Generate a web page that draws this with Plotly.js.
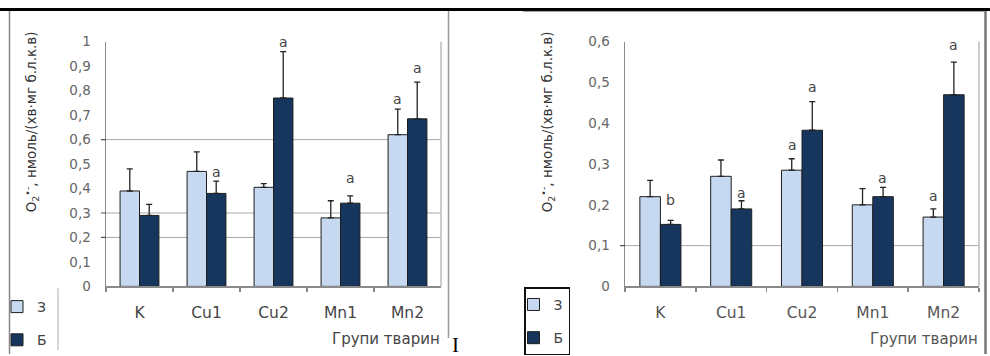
<!DOCTYPE html>
<html>
<head>
<meta charset="utf-8">
<script src="https://cdn.plot.ly/plotly-3.0.1.min.js"></script>
<style>html,body{margin:0;padding:0;background:#fff;}#chart{width:990px;height:356px;}</style>
</head>
<body>
<div id="chart"></div>
<script>
// ---- data ----
const categories = ['K', 'Cu1', 'Cu2', 'Mn1', 'Mn2'];
const seriesNames = ['З', 'Б'];

// left chart
const leftZ = [0.39, 0.47, 0.405, 0.28, 0.62];
const leftZErr = [0.09, 0.08, 0.015, 0.07, 0.105];
const leftB = [0.29, 0.38, 0.77, 0.34, 0.685];
const leftBErr = [0.045, 0.05, 0.19, 0.03, 0.15];
const leftZLetters = ['', '', '', '', 'a'];
const leftZLetterPos = [null, null, null, null, 0.764];
const leftBLetters = ['', 'a', 'a', 'a', 'a'];
const leftBLetterPos = [null, 0.467, 1.0, 0.443, 0.894];
const leftTicks = [0, 0.1, 0.2, 0.3, 0.4, 0.5, 0.6, 0.7, 0.8, 0.9, 1];
const leftGrid = [0.2, 0.3, 0.6];

// right chart
const rightZ = [0.22, 0.27, 0.285, 0.20, 0.17];
const rightZErr = [0.04, 0.04, 0.028, 0.04, 0.02];
const rightB = [0.152, 0.19, 0.383, 0.22, 0.47];
const rightBErr = [0.01, 0.02, 0.07, 0.023, 0.08];
const rightZLetters = ['', '', 'a', '', 'a'];
const rightZLetterPos = [null, null, 0.348, null, 0.221];
const rightBLetters = ['b', 'a', 'a', 'a', 'a'];
const rightBLetterPos = [0.212, 0.23, 0.488, 0.267, 0.593];
const rightTicks = [0, 0.1, 0.2, 0.3, 0.4, 0.5, 0.6];
const rightGrid = [0.1];

const yTitle = 'O<sub>2</sub><sup>•-</sup>, нмоль/(хв·мг б.л.к.в)';
const xTitle = 'Групи тварин';

// ---- styles ----
const W = 990, H = 356;
const px = v => v / W;
const py = v => 1 - v / H;
const lightCol = '#c6d9f1';
const darkCol = '#17365d';
const edgeCol = '#1e1e1e';
const FONT = 'DejaVu Sans, Liberation Sans, Arial, sans-serif';

function barTrace(name, y, err, col, xa, ya, legend, group) {
  return {
    type: 'bar', name: name, x: categories, y: y,
    xaxis: xa, yaxis: ya, legend: legend, legendgroup: group,
    marker: {color: col, line: {color: edgeCol, width: 1}},
    error_y: {type: 'data', array: err, arrayminus: err.map(() => 0), symmetric: false,
              color: '#222', thickness: 1.3, width: 3},
    hoverinfo: 'skip'
  };
}

const data = [
  barTrace(seriesNames[0], leftZ, leftZErr, lightCol, 'x', 'y', 'legend', 'g1'),
  barTrace(seriesNames[1], leftB, leftBErr, darkCol, 'x', 'y', 'legend', 'g2'),
  barTrace(seriesNames[0], rightZ, rightZErr, lightCol, 'x2', 'y2', 'legend2', 'g1'),
  barTrace(seriesNames[1], rightB, rightBErr, darkCol, 'x2', 'y2', 'legend2', 'g2')
];

const annotations = [];
function addLetters(letters, pos, xa, ya, shift) {
  letters.forEach((t, i) => {
    if (!t) return;
    annotations.push({xref: xa, yref: ya, x: categories[i], y: pos[i], text: t,
      showarrow: false, xshift: shift, yanchor: 'middle',
      font: {family: FONT, size: 14, color: '#444'}});
  });
}
addLetters(leftZLetters, leftZLetterPos, 'x', 'y', -10);
addLetters(leftBLetters, leftBLetterPos, 'x', 'y', 10);
addLetters(rightZLetters, rightZLetterPos, 'x2', 'y2', -10);
addLetters(rightBLetters, rightBLetterPos, 'x2', 'y2', 10);

// titles
annotations.push({xref: 'paper', yref: 'paper', x: px(32), y: py(123), text: yTitle, textangle: -90,
  showarrow: false, xanchor: 'center', yanchor: 'middle', font: {family: FONT, size: 13.5, color: '#333'}});
annotations.push({xref: 'paper', yref: 'paper', x: px(548), y: py(123), text: yTitle, textangle: -90,
  showarrow: false, xanchor: 'center', yanchor: 'middle', font: {family: FONT, size: 13.5, color: '#333'}});
annotations.push({xref: 'paper', yref: 'paper', x: px(442), y: py(341), text: xTitle,
  showarrow: false, xanchor: 'right', yanchor: 'middle', font: {family: FONT, size: 15, color: '#444'}});
annotations.push({xref: 'paper', yref: 'paper', x: px(980), y: py(341), text: xTitle,
  showarrow: false, xanchor: 'right', yanchor: 'middle', font: {family: FONT, size: 15, color: '#555'}});
annotations.push({xref: 'paper', yref: 'paper', x: px(455), y: py(347), text: 'I',
  showarrow: false, xanchor: 'center', yanchor: 'middle', font: {family: 'Liberation Serif, serif', size: 21, color: '#000'}});

const shapes = [];
// gridlines + ticks
leftGrid.forEach(v => {
  shapes.push({type: 'line', xref: 'x domain', yref: 'y', x0: 0, x1: 1, y0: v, y1: v,
    line: {color: '#a8a8a8', width: 1}, layer: 'below'});
  shapes.push({type: 'line', xref: 'paper', yref: 'y', x0: px(101), x1: px(106), y0: v, y1: v,
    line: {color: '#555', width: 1.2}});
});
rightGrid.forEach(v => {
  shapes.push({type: 'line', xref: 'x2 domain', yref: 'y2', x0: 0, x1: 1, y0: v, y1: v,
    line: {color: '#a8a8a8', width: 1}, layer: 'below'});
  shapes.push({type: 'line', xref: 'paper', yref: 'y2', x0: px(620), x1: px(625), y0: v, y1: v,
    line: {color: '#555', width: 1.2}});
});
// plot-area right borders
shapes.push({type: 'line', xref: 'x domain', yref: 'y domain', x0: 1, x1: 1, y0: 0, y1: 1,
  line: {color: '#bbb', width: 1.5}});
shapes.push({type: 'line', xref: 'x2 domain', yref: 'y2 domain', x0: 1, x1: 1, y0: 0, y1: 1,
  line: {color: '#bbb', width: 1.5}});
// frames
shapes.push({type: 'rect', xref: 'paper', yref: 'paper', x0: 0, x1: 1, y0: py(11), y1: py(8),
  fillcolor: '#000', line: {width: 0}});
shapes.push({type: 'line', xref: 'paper', yref: 'paper', x0: px(9.5), x1: px(9.5), y0: py(356), y1: py(11),
  line: {color: '#888', width: 1.5}});
shapes.push({type: 'line', xref: 'paper', yref: 'paper', x0: px(448.5), x1: px(448.5), y0: py(340), y1: py(11),
  line: {color: '#999', width: 1.5}});
shapes.push({type: 'line', xref: 'paper', yref: 'paper', x0: px(58), x1: px(58), y0: py(352), y1: py(290),
  line: {color: '#bbb', width: 1.2}});
shapes.push({type: 'line', xref: 'paper', yref: 'paper', x0: px(985.5), x1: px(985.5), y0: py(356), y1: py(11),
  line: {color: '#777', width: 2.5}});
shapes.push({type: 'line', xref: 'paper', yref: 'paper', x0: px(523), x1: px(985), y0: py(11.5), y1: py(11.5),
  line: {color: '#999', width: 1}});

const yDom = [py(288), py(42)];
const xAxisCommon = {
  type: 'category', showline: true, linecolor: '#8a8a8a', linewidth: 1.5,
  ticks: 'outside', tickson: 'boundaries', ticklen: 4, tickcolor: '#888', tickwidth: 1.5,
  showgrid: false, zeroline: false, ticklabelstandoff: 12,
  tickfont: {family: FONT, size: 15.5, color: '#444'}
};
const yAxisCommon = {
  showline: true, linecolor: '#8a8a8a', linewidth: 1.5, ticks: '', showgrid: false, zeroline: false,
  ticklabelstandoff: 11, tickfont: {family: FONT, size: 13.5, color: '#666'}
};

const layout = {
  width: W, height: H, margin: {l: 0, r: 0, t: 0, b: 0},
  paper_bgcolor: '#fff', plot_bgcolor: 'rgba(0,0,0,0)',
  separators: ', ',
  barmode: 'group', bargap: 0.42, bargroupgap: 0,
  showlegend: true,
  xaxis: Object.assign({}, xAxisCommon, {domain: [px(106), px(441)], anchor: 'y'}),
  yaxis: Object.assign({}, yAxisCommon, {domain: yDom, range: [0, 1], tickvals: leftTicks, anchor: 'x'}),
  xaxis2: Object.assign({}, xAxisCommon, {domain: [px(625), px(979)], anchor: 'y2', tickfont: {family: FONT, size: 15.5, color: '#555'}}),
  yaxis2: Object.assign({}, yAxisCommon, {domain: yDom, range: [0, 0.6], tickvals: rightTicks, anchor: 'x2'}),
  legend: {x: px(9), y: py(293), xanchor: 'left', yanchor: 'top', bgcolor: 'rgba(0,0,0,0)',
    borderwidth: 0, traceorder: 'grouped', tracegroupgap: 12, itemwidth: 30, indentation: -12,
    font: {family: FONT, size: 14, color: '#444'}},
  legend2: {x: px(524), y: py(289), xanchor: 'left', yanchor: 'top', bgcolor: '#fff',
    bordercolor: '#111', borderwidth: 1.5, traceorder: 'grouped', tracegroupgap: 12, itemwidth: 30, indentation: -12,
    font: {family: FONT, size: 14, color: '#444'}},
  annotations: annotations,
  shapes: shapes
};

Plotly.newPlot('chart', data, layout, {staticPlot: true, displayModeBar: false});
</script>
</body>
</html>
